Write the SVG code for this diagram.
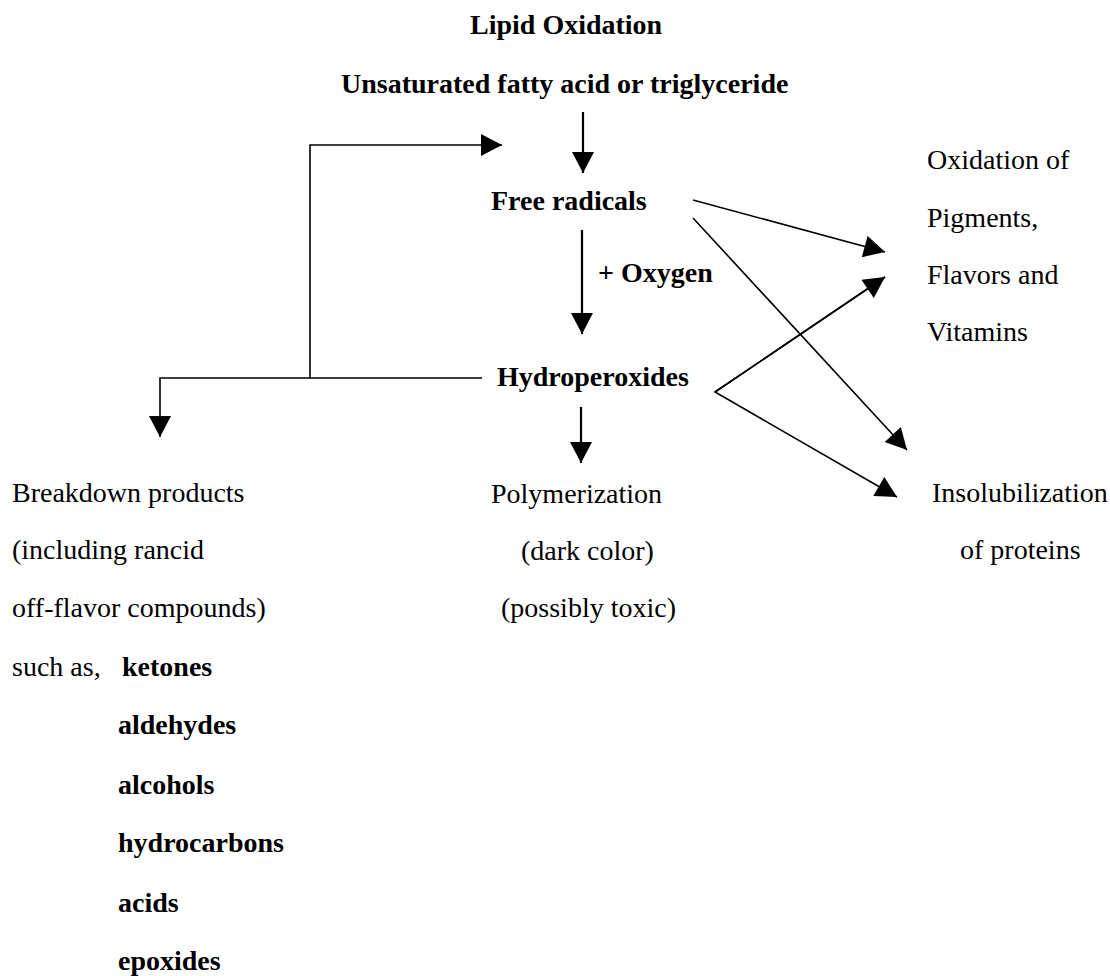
<svg xmlns="http://www.w3.org/2000/svg" width="1110" height="976" viewBox="0 0 1110 976">
<style>
text{font-family:"Liberation Serif","Times New Roman",serif;font-size:28px;fill:#000}
.b{font-weight:bold}
.ln{fill:none;stroke:#000;stroke-width:1.6}
.th{stroke-width:2.2}
</style>
<defs>
<marker id="ah" markerUnits="userSpaceOnUse" markerWidth="22" markerHeight="22" viewBox="0 0 21 22" refX="21" refY="11" orient="auto">
<path d="M0,0 L21,11 L0,22 z" fill="#000"/>
</marker>
</defs>
<rect width="1110" height="976" fill="#fff"/>
<g id="title"><text class="b" x="470" y="34">Lipid Oxidation</text></g>
<g id="fatty-acid"><text class="b" x="341" y="93">Unsaturated fatty acid or triglyceride</text></g>
<g id="free-radicals"><text class="b" x="491" y="210">Free radicals</text></g>
<g id="oxygen-label"><text class="b" x="598" y="282">+ Oxygen</text></g>
<g id="hydroperoxides"><text class="b" x="497" y="386">Hydroperoxides</text></g>
<g id="oxidation">
<text x="927" y="169">Oxidation of</text>
<text x="927" y="227">Pigments,</text>
<text x="927" y="284">Flavors and</text>
<text x="927" y="341">Vitamins</text>
</g>
<g id="insolubilization">
<text x="932" y="502">Insolubilization</text>
<text x="960" y="559">of proteins</text>
</g>
<g id="polymerization">
<text x="491" y="503">Polymerization</text>
<text x="521" y="560">(dark color)</text>
<text x="501" y="617">(possibly toxic)</text>
</g>
<g id="breakdown">
<text x="12" y="502">Breakdown products</text>
<text x="12" y="559">(including rancid</text>
<text x="12" y="617">off-flavor compounds)</text>
<text x="12" y="676">such as,</text>
<text class="b" x="122" y="676">ketones</text>
<text class="b" x="118" y="734">aldehydes</text>
<text class="b" x="118" y="794">alcohols</text>
<text class="b" x="118" y="852">hydrocarbons</text>
<text class="b" x="118" y="912">acids</text>
<text class="b" x="118" y="970">epoxides</text>
</g>
<g id="connectors">
<line class="ln th" x1="583" y1="112" x2="583" y2="173" marker-end="url(#ah)"/>
<line class="ln th" x1="582" y1="230" x2="582" y2="334" marker-end="url(#ah)"/>
<line class="ln th" x1="581" y1="407" x2="581" y2="463" marker-end="url(#ah)"/>
<polyline class="ln" points="482,378 310,378 310,145 502,145" marker-end="url(#ah)"/>
<polyline class="ln" points="310,378 160,378 160,437" marker-end="url(#ah)"/>
<line class="ln" x1="693" y1="200" x2="885" y2="252" marker-end="url(#ah)"/>
<line class="ln" x1="693" y1="218" x2="907" y2="450" marker-end="url(#ah)"/>
<polyline class="ln" points="885,277 715,392 897,497" marker-end="url(#ah)"/>
<line class="ln" x1="715" y1="392" x2="885" y2="277" marker-end="url(#ah)"/>
</g>
</svg>
